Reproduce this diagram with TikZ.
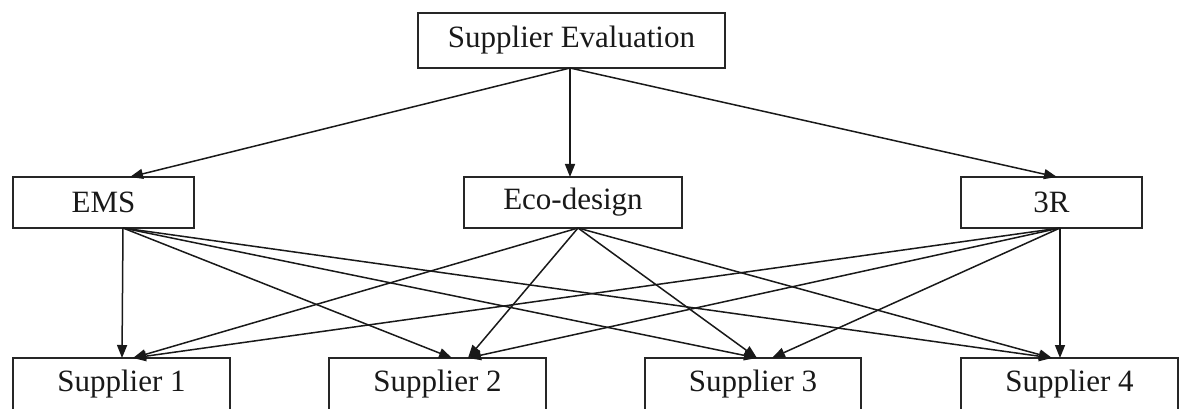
\documentclass[tikz,border=0pt]{standalone}
\usepackage{fontspec}
\setmainfont{Liberation Serif}
\usetikzlibrary{arrows.meta}
\begin{document}
\begin{tikzpicture}[x=1pt,y=-1pt,
  box/.style={draw=black!85,line width=1.6pt,minimum height=51pt,inner sep=0pt,font=\fontsize{31}{34}\selectfont,text=black!90},
  arr/.style={draw=black!90,line width=1.5pt,-{Triangle[length=13pt,width=10pt]}}]
\useasboundingbox (0,0) rectangle (1179,409);
\fill[white] (0,0) rectangle (1179,409);
\node[box,minimum width=307pt,minimum height=55pt] (top) at (571.5,40.5) {Supplier Evaluation};
\node[box,minimum width=181pt] (ems) at (103.5,202.5) {EMS};
\node[box,minimum width=218pt] (eco) at (573,202.5) {Eco-design};
\node[box,minimum width=181pt] (r3) at (1051.5,202.5) {3R};
\node[box,minimum width=217pt,minimum height=52pt] (s1) at (121.5,384) {Supplier 1};
\node[box,minimum width=217pt,minimum height=52pt] (s2) at (437.5,384) {Supplier 2};
\node[box,minimum width=216pt,minimum height=52pt] (s3) at (753,384) {Supplier 3};
\node[box,minimum width=217pt,minimum height=52pt] (s4) at (1069.5,384) {Supplier 4};
% connector points
\coordinate (tOut) at (570,68);
\coordinate (emsIn) at (130,177);
\coordinate (ecoIn) at (570,177);
\coordinate (r3In) at (1057,177);
\coordinate (emsOut) at (123,228);
\coordinate (ecoOut) at (578,228);
\coordinate (r3Out) at (1060,228);
\coordinate (s1a) at (122,358);
\coordinate (s1b) at (133,358);
\coordinate (s2a) at (452,358);
\coordinate (s2b) at (468,358);
\coordinate (s3a) at (757,358);
\coordinate (s3b) at (772,358);
\coordinate (s4a) at (1052,358);
\coordinate (s4b) at (1060,358);
\draw[arr] (tOut) -- (emsIn);
\draw[arr] (tOut) -- (ecoIn);
\draw[arr] (tOut) -- (r3In);
\draw[arr] (emsOut) -- (s1a);
\draw[arr] (emsOut) -- (s2a);
\draw[arr] (emsOut) -- (s3a);
\draw[arr] (emsOut) -- (s4a);
\draw[arr] (ecoOut) -- (s1b);
\draw[arr] (ecoOut) -- (s2b);
\draw[arr] (ecoOut) -- (s3a);
\draw[arr] (ecoOut) -- (s4a);
\draw[arr] (r3Out) -- (s1b);
\draw[arr] (r3Out) -- (s2b);
\draw[arr] (r3Out) -- (s3b);
\draw[arr] (r3Out) -- (s4b);
\end{tikzpicture}
\end{document}
